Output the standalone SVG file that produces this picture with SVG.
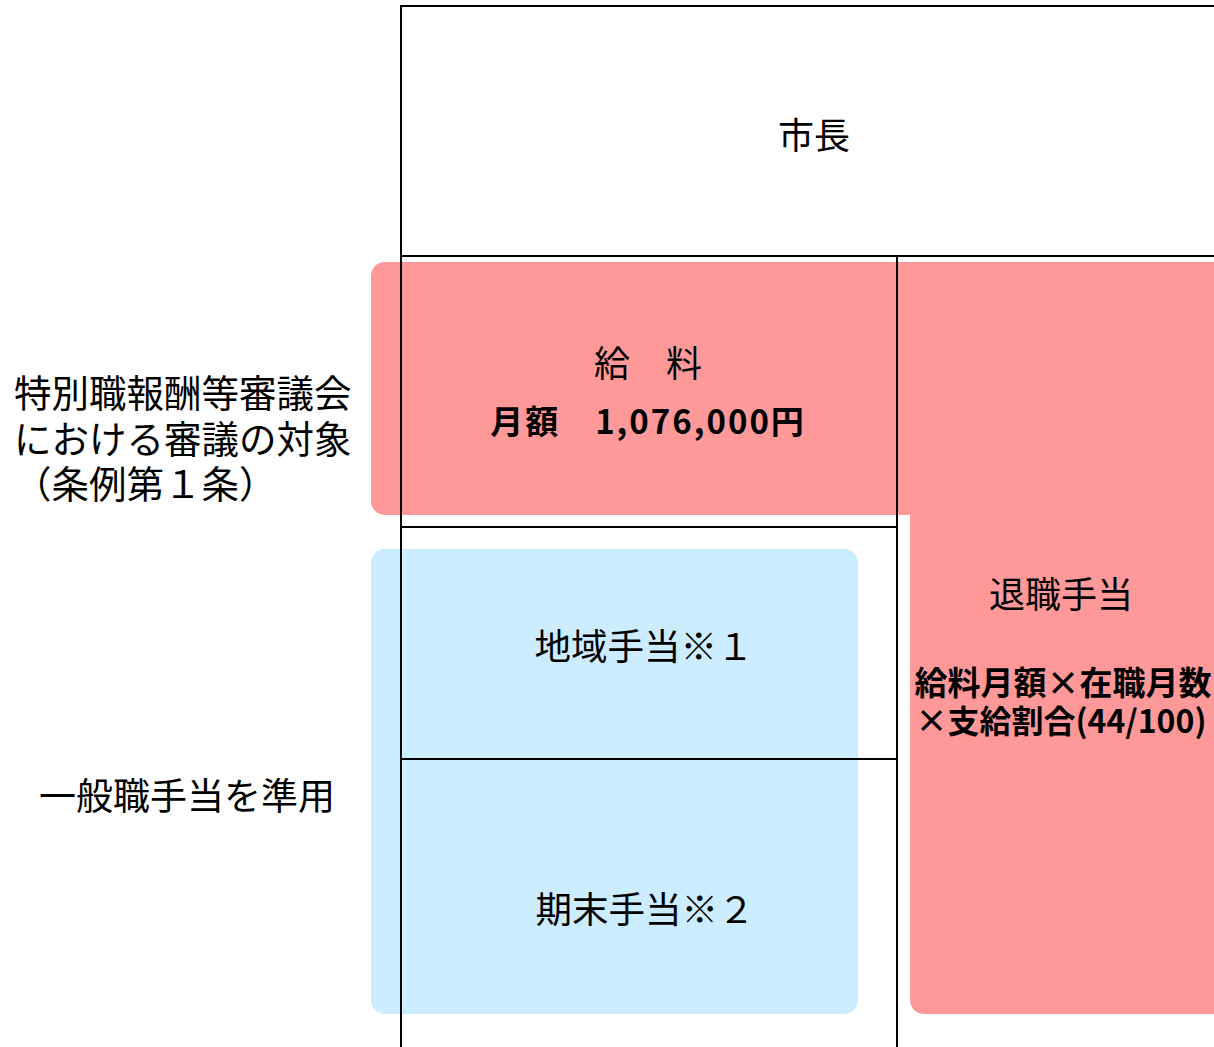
<svg xmlns="http://www.w3.org/2000/svg" width="1214" height="1047" viewBox="0 0 1214 1047">
<style>
.t{font-family:"Noto Sans CJK JP","Liberation Sans",sans-serif;fill:#000;text-anchor:middle;dominant-baseline:central}
.r{font-size:36px}
.l{font-size:37.5px;text-anchor:start}
.b{font-size:33px;font-weight:bold}
.pink{fill:#FF9999}
.blue{fill:#CCECFF}
.ln{stroke:#000;stroke-width:2;fill:none}
</style>
<rect width="1214" height="1047" fill="#fff"/>
<g id="bands">
<rect id="pink-salary" class="pink" x="371" y="262" width="569" height="253" rx="14"/>
<rect id="pink-retire" class="pink" x="910" y="262" width="340" height="752" rx="14"/>
<rect id="blue-allow" class="blue" x="371" y="549" width="487" height="465" rx="14"/>
</g>
<g id="connectors">
<path class="ln" d="M401 1047V6H1214"/>
<path class="ln" d="M401 256H1214"/>
<path class="ln" d="M897 256V1047"/>
<path class="ln" d="M401 527H897"/>
<path class="ln" d="M401 759H897"/>
</g>
<g id="mayor"><text class="t r" x="814" y="133">市長</text></g>
<g id="salary">
<text class="t r" x="648" y="361">給　料</text>
<text class="t b" x="648" y="420" letter-spacing="2">月額　1,076,000円</text>
</g>
<g id="retire">
<text class="t r" x="1061" y="592">退職手当</text>
<text class="t b" x="1063" y="681">給料月額×在職月数</text>
<text class="t b" x="1061" y="719" style="font-size:32px">×支給割合(44/100)</text>
</g>
<g id="regional"><text class="t r" x="644" y="644" style="font-size:36.5px">地域手当※１</text></g>
<g id="bonus"><text class="t r" x="645" y="907" style="font-size:36.5px">期末手当※２</text></g>
<g id="label-review">
<text class="t l" x="14" y="390">特別職報酬等審議会</text>
<text class="t l" x="14" y="436">における審議の対象</text>
<text class="t l" x="14" y="481">（条例第１条）</text>
</g>
<g id="label-general"><text class="t r" x="187" y="794" style="font-size:37px">一般職手当を準用</text></g>
</svg>
